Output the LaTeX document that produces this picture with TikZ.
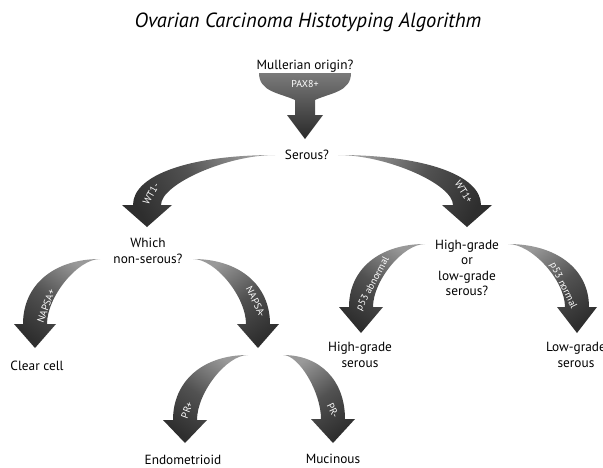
\documentclass[tikz,border=0pt]{standalone}
\usepackage{fontspec}
\setmainfont{PT Sans}
\usetikzlibrary{calc}
\newcommand\bentarrow[7]{% #1 tail, #2 tip, #3 shaft half, #4 wing half, #5 head length, #6 shading angle, #7 direction (+1/-1)
  \shade[arrowshade,shading angle=#6] let \p1=(#1),\p2=(#2),\p3=($(#2)+(0,-#5)$) in
    (\p1) .. controls ({\x1+0.6*(\x2+(#7)*(#3)-\x1)},\y1) and ({\x2+(#7)*(#3)},{\y3+0.6*(\y1-\y3)}) .. ({\x2+(#7)*(#3)},\y3)
    -- ({\x2+(#7)*(#4)},\y3) -- (\p2) -- ({\x2-(#7)*(#4)},\y3) -- ({\x2-(#7)*(#3)},\y3)
    .. controls ({\x2-(#7)*(#3)},{\y3+0.42*(\y1-\y3)}) and ({\x1+0.42*(\x2-(#7)*(#3)-\x1)},\y1) .. (\p1) -- cycle;}
\begin{document}
\begin{tikzpicture}[x=1pt,y=-1pt,
  arrowshade/.style={top color=black!40,bottom color=black!82,middle color=black!68},
  lbl/.style={font=\fontsize{13.3}{15.5}\selectfont,text=black,align=center,inner sep=0pt},
  onarrow/.style={font=\fontsize{10}{11}\selectfont,text=white,inner sep=0pt}]
\useasboundingbox (0,0) rectangle (603,467);
% title
\node[font=\fontsize{20.5}{22}\selectfont\itshape,text=black,inner sep=0pt] (title) at (308,22) {Ovarian Carcinoma Histotyping Algorithm};
% text nodes
\node[lbl] (mull) at (305,66) {Mullerian origin?};
\node[lbl] (serous) at (307,155) {Serous?};
\node[lbl] (which) at (148,251) {Which\\non-serous?};
\node[lbl] (hgq) at (467,268) {High-grade\\or\\low-grade\\serous?};
\node[lbl] (clear) at (37,366) {Clear cell};
\node[lbl] (endo) at (183,460) {Endometrioid};
\node[lbl] (muc) at (333,459) {Mucinous};
\node[lbl] (hgs) at (360,355) {High-grade\\serous};
\node[lbl] (lgs) at (576,355) {Low-grade\\serous};
% connector end points
\coordinate (funtip) at (305,139);
\coordinate (sL) at (275,155);
\coordinate (sR) at (338,155);
\coordinate (wL) at (100,259);
\coordinate (wR) at (193,259);
\coordinate (hL) at (425,244);
\coordinate (hR) at (508,244);
\coordinate (nL) at (248,355);
\coordinate (nR) at (283,355);
\coordinate (tWTm) at (147,227);
\coordinate (tWTp) at (467,227);
\coordinate (tNAp) at (35,348);
\coordinate (tNAm) at (258,348);
\coordinate (tPRp) at (185,443);
\coordinate (tPRm) at (333,443);
\coordinate (tP53a) at (361,333);
\coordinate (tP53n) at (577,333);
% funnel arrow (PAX8+)
\shade[top color=black!52,bottom color=black!84] (259,73) -- (351,73)
  .. controls (351,92) and (330,93) .. (315,100) -- (315,115) -- (323,115) -- (funtip) -- (287,115) -- (295,115) -- (295,100)
  .. controls (280,93) and (259,92) .. (259,73) -- cycle;
\node[onarrow] (pax) at (305,84) {PAX8+};
% curved arrows
\bentarrow{sL}{tWTm}{14}{25}{22}{-60}{-1}
\bentarrow{sR}{tWTp}{14}{25}{22}{60}{1}
\bentarrow{wL}{tNAp}{12}{21}{24}{-35}{-1}
\bentarrow{wR}{tNAm}{12}{21}{24}{35}{1}
\bentarrow{nL}{tPRp}{12}{22}{23}{-35}{-1}
\bentarrow{nR}{tPRm}{12}{22}{24}{35}{1}
\bentarrow{hL}{tP53a}{12}{22}{26}{-35}{-1}
\bentarrow{hR}{tP53n}{12}{20}{26}{35}{1}
% arrow labels
\node[onarrow,rotate=60] (l1) at (151,194) {WT1-};
\node[onarrow,rotate=-57] (l2) at (464,192) {WT1+};
\node[onarrow,rotate=70] (l3) at (46,306) {NAPSA+};
\node[onarrow,rotate=-64] (l4) at (256,302) {NAPSA-};
\node[onarrow,rotate=70] (l5) at (187,410) {PR+};
\node[onarrow,rotate=-64] (l6) at (333,411) {PR-};
\node[onarrow,rotate=62] (l7) at (373,284) {p53 abnormal};
\node[onarrow,rotate=-64] (l8) at (563,286) {p53 normal};
\end{tikzpicture}
\end{document}
